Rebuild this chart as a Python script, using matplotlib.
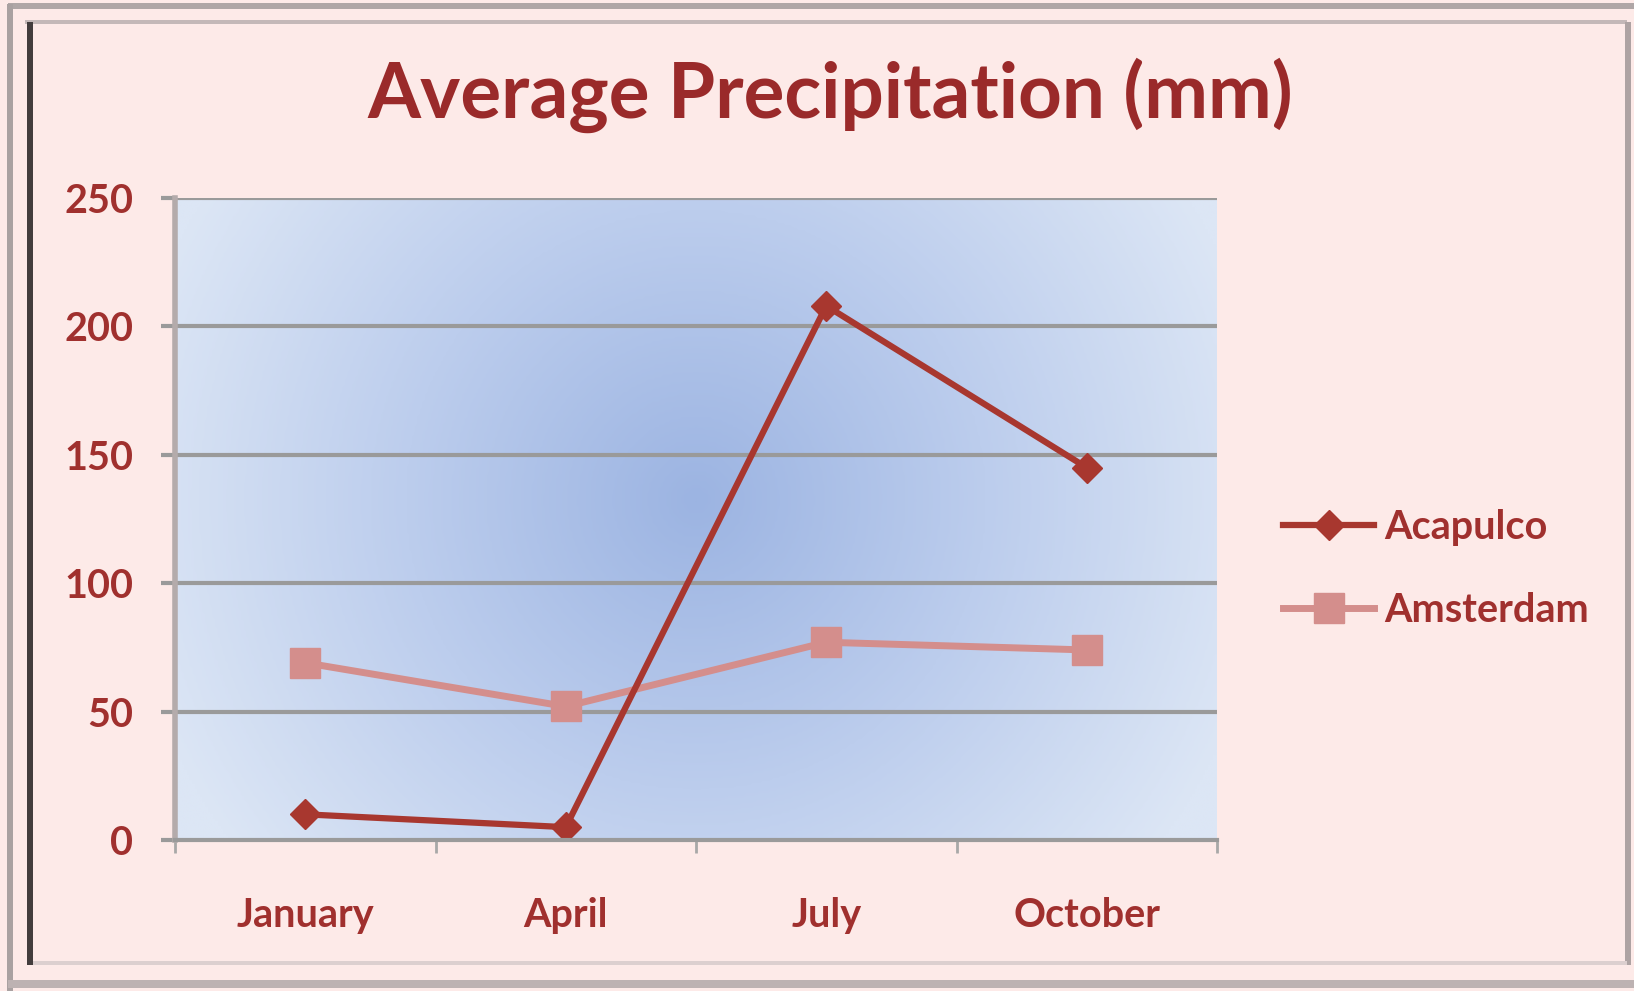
import matplotlib.pyplot as plt
import numpy as np
from matplotlib.lines import Line2D
from matplotlib.colors import LinearSegmentedColormap

# data
months = ['January', 'April', 'July', 'October']
acapulco = [10, 5, 208, 145]
amsterdam = [69, 52, 77, 74]
y_ticks = [0, 50, 100, 150, 200, 250]

W, H = 1634, 991
bg = '#FDEAE8'
text_red = '#A0302E'
aca_color = '#A8372F'
ams_color = '#D48E8C'

plt.rcParams['font.family'] = ['Lato', 'DejaVu Sans']

fig = plt.figure(figsize=(W / 100, H / 100), dpi=100, facecolor=bg)


def fx(px):
    return px / W


def fy(py):
    return 1 - py / H


def frame_line(x0, y0, x1, y1, color, lw):
    fig.add_artist(Line2D([fx(x0), fx(x1)], [fy(y0), fy(y1)], color=color,
                          lw=lw * 0.72, transform=fig.transFigure,
                          solid_capstyle='butt'))


# window / chart borders
frame_line(8, 6, W, 6, '#AFA6A6', 6)
frame_line(10, 4, 10, H, '#A9A1A1', 6)
frame_line(8, 984, W, 984, '#BDB2B2', 8)
frame_line(25, 22, 1627, 22, '#C4B8B8', 4)
frame_line(1628, 22, 1628, 965, '#AEA3A3', 6)
frame_line(27, 963, 1627, 963, '#DCCFCF', 4)
frame_line(30, 22, 30, 965, '#433D3D', 6)

# plot area
ax = fig.add_axes([fx(175), fy(840), fx(1217) - fx(175), fy(198) - fy(840)])
ax.set_facecolor('#DAE4F4')

# radial blue gradient behind the data
gx, gy = np.meshgrid(np.linspace(0, 1042, 400), np.linspace(0, 642, 260))
dist = np.sqrt((gx - 521) ** 2 + (gy - 642 * 0.53) ** 2) / 580
dist = np.clip(dist, 0, 1)
cmap = LinearSegmentedColormap.from_list('blue', ['#9CB4E2', '#BCCDED', '#DCE6F5'])
ax.imshow(dist, cmap=cmap, extent=[0, 1, 0, 1], transform=ax.transAxes,
          origin='lower', aspect='auto', zorder=0, interpolation='bilinear')

x = np.arange(len(months))
ax.set_xlim(-0.5, len(months) - 0.5)
ax.set_ylim(0, 250)

ax.plot(x, amsterdam, color=ams_color, lw=5, marker='s', markersize=22,
        label='Amsterdam', zorder=3)
ax.plot(x, acapulco, color=aca_color, lw=4.5, marker='D', markersize=15,
        label='Acapulco', zorder=4)

# grid lines
for v in y_ticks[1:]:
    ax.axhline(v, color='#9A9A9A', lw=3, zorder=2)

ax.set_yticks(y_ticks)
ax.set_xticks(x)
ax.set_xticklabels(months)
ax.set_xticks(np.arange(-0.5, len(months)), minor=True)
ax.tick_params(axis='x', which='major', length=0, pad=41, labelsize=28.5,
               labelcolor=text_red)
ax.tick_params(axis='x', which='minor', length=9, width=2, color='#A8A8A8',
               direction='out')
ax.tick_params(axis='y', length=10, width=3, color='#9A9A9A', pad=20,
               labelsize=28.5, labelcolor=text_red)
for lab in ax.get_xticklabels() + ax.get_yticklabels():
    lab.set_fontweight('bold')

for side in ['top', 'right']:
    ax.spines[side].set_visible(False)
ax.spines['left'].set_color('#B4ABAB')
ax.spines['left'].set_linewidth(4)
ax.spines['bottom'].set_color('#9A9A9A')
ax.spines['bottom'].set_linewidth(3)
ax.spines['bottom'].set_zorder(5)

# title
fig.text(fx(830), fy(95), 'Average Precipitation (mm)', ha='center', va='center',
         fontsize=55, fontweight='bold', color='#9A2A2A')

# legend
handles, labels = ax.get_legend_handles_labels()
leg = fig.legend(handles[::-1], labels[::-1], loc='center left',
                 bbox_to_anchor=(fx(1283), fy(569)), frameon=False,
                 borderpad=0, borderaxespad=0, handlelength=2.3,
                 handletextpad=0.25, labelspacing=1.15,
                 prop={'size': 28.5, 'weight': 'bold'}, labelcolor=text_red)

fig.savefig('out.png', dpi=100, facecolor=bg)
